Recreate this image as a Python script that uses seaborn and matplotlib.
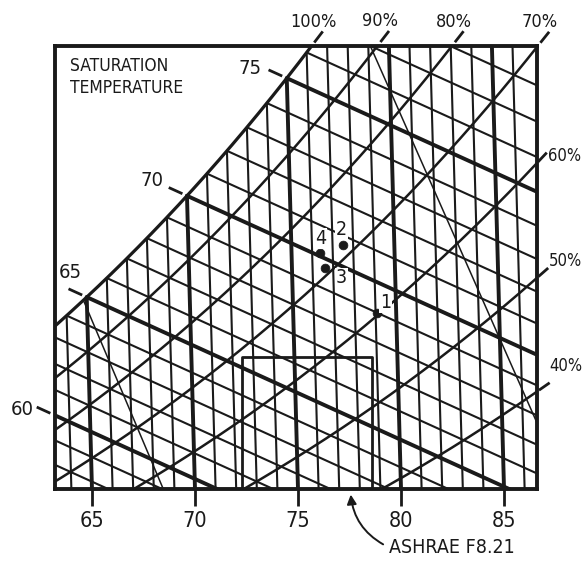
import numpy as np
import pandas as pd
import matplotlib
matplotlib.use("Agg")
import matplotlib.pyplot as plt
import seaborn as sns

# frame: operative temperature (F) across, vapour pressure (kPa) up
T_MIN, T_MAX = 63.2, 86.6
P_BOT, P_TOP = 1.354, 3.084
LEAN = 0.34     # dry-bulb lines lean slightly toward cooler side as humidity rises
GAMMA = 0.037   # kPa per F, slope of saturation-temperature lines

dry_bulb = np.arange(64, 87)
dry_bulb_bold = [65, 70, 75, 80, 85]
sat_temp = np.arange(55, 79)
sat_temp_bold = [60, 65, 70, 75]
sat_temp_labels = [60, 65, 70, 75]
rh_levels = [100, 90, 80, 70, 60, 50, 40]
rh_top = [100, 90, 80, 70]
rh_right = [60, 50, 40]
temp_ticks = [65, 70, 75, 80, 85]

# state points (operative temp F, vapour pressure kPa)
point_ids = ["1", "2", "3", "4"]
point_t = [78.85, 77.20, 76.33, 76.08]
point_p = [2.041, 2.307, 2.217, 2.276]

# comfort box and the two thin limit lines
box_t = [72.3, 78.6]
box_p = 1.87
limit_left_t = [64.58, 68.46]
limit_left_p = [2.092, 1.354]
limit_right_t = [78.51, 86.75]
limit_right_p = [3.084, 1.585]

INK = "#1a1a1a"
FONT = ["DejaVu Sans Condensed", "Liberation Sans Narrow", "DejaVu Sans"]


def psat(t_f):
    tc = (np.asarray(t_f, dtype=float) - 32) / 1.8
    return 0.61094 * np.exp(17.625 * tc / (tc + 243.04))


def skew(t, p):
    return t - LEAN * (p - P_BOT)


rows = []
for t in dry_bulb:
    top = min(float(psat(t)), P_TOP + 0.1)
    w = "bold" if t in dry_bulb_bold else "thin"
    for p in (P_BOT - 0.1, top):
        rows.append(("db%d" % t, skew(t, p), p, w))
for ts in sat_temp:
    w = "bold" if ts in sat_temp_bold else "thin"
    for t in (ts, 95.0):
        p = float(psat(ts)) - GAMMA * (t - ts)
        rows.append(("st%d" % ts, skew(t, p), p, w))
tt = np.linspace(55, 95, 300)
for rh in rh_levels:
    pp = rh / 100 * psat(tt)
    w = "sat" if rh == 100 else "rh"
    for t, p in zip(tt, pp):
        rows.append(("rh%d" % rh, skew(t, p), p, w))
grid = pd.DataFrame(rows, columns=["line", "x", "p", "weight"])

sns.set_theme(style="white")
plt.rcParams["font.family"] = FONT
plt.rcParams["font.stretch"] = "condensed"

fig = plt.figure(figsize=(5.84, 5.63), dpi=100)
ax = fig.add_axes([0.094, 0.1314, 0.8255, 0.787])

sns.lineplot(data=grid, x="x", y="p", units="line", estimator=None, sort=False,
             size="weight", sizes={"thin": 1.5, "bold": 2.8, "rh": 1.8, "sat": 2.3},
             color=INK, legend=False, ax=ax)

# thin limit lines and comfort box
ax.plot(limit_left_t, limit_left_p, color=INK, lw=1.1)
ax.plot(limit_right_t, limit_right_p, color=INK, lw=1.1)
ax.plot([box_t[0], box_t[0], box_t[1], box_t[1]],
        [P_BOT - 0.1, box_p, box_p, P_BOT - 0.1], color=INK, lw=2.0)

pts = pd.DataFrame({"t": point_t, "p": point_p, "id": point_ids})
sns.scatterplot(data=pts, x="t", y="p", s=40, color=INK, edgecolor=INK,
                legend=False, ax=ax, zorder=5)

ax.set_xlim(T_MIN, T_MAX)
ax.set_ylim(P_BOT, P_TOP)
ax.set_xlabel("")
ax.set_ylabel("")
ax.set_yticks([])
ax.set_xticks(temp_ticks)
ax.set_xticklabels([str(t) for t in temp_ticks])
ax.tick_params(axis="x", length=12, width=2, pad=4, labelsize=15.5,
               direction="out", color=INK, labelcolor=INK, bottom=True)
for s in ax.spines.values():
    s.set_linewidth(2.8)
    s.set_color(INK)


def shifted(x, y, dx, dy):
    d = ax.transData.transform((x, y)) + np.array([dx, dy])
    return ax.transData.inverted().transform(d)


def inside(x, p):
    return (x >= T_MIN) & (x <= T_MAX) & (p >= P_BOT) & (p <= P_TOP)


def tick_and_label(x0, y0, u, near, far, label, lab_off, size):
    a = shifted(x0, y0, u[0] * near, u[1] * near)
    b = shifted(x0, y0, u[0] * far, u[1] * far)
    ax.plot([a[0], b[0]], [a[1], b[1]], color=INK, lw=2.0, clip_on=False,
            solid_capstyle="butt")
    c = shifted(x0, y0, *lab_off)
    ax.text(c[0], c[1], label, ha="center", va="center", fontsize=size,
            color=INK, clip_on=False)


# saturation temperature labels, at the upper-left end of each line
ts_label_off = {60: (-33, 6), 65: (-16, 25), 70: (-35, 15), 75: (-37, 10)}
for ts in sat_temp_labels:
    t = np.linspace(ts, 95, 4000)
    p = psat(ts) - GAMMA * (t - ts)
    x = skew(t, p)
    k = np.argmax(inside(x, p))
    d = ax.transData.transform((x[k + 50], p[k + 50])) - ax.transData.transform((x[k], p[k]))
    u = -d / np.hypot(*d)
    tick_and_label(x[k], p[k], u, 5, 20, str(ts), ts_label_off[ts], 14.5)

# relative humidity labels, at the upper-right end of each line
for rh in rh_top + rh_right:
    p = rh / 100 * psat(tt)
    x = skew(tt, p)
    k = np.where(inside(x, p))[0][-1]
    d = ax.transData.transform((x[k], p[k])) - ax.transData.transform((x[k - 3], p[k - 3]))
    u = d / np.hypot(*d)
    if rh in rh_top:
        tick_and_label(x[k], p[k], u, 8, 22, "%d%%" % rh, (4, 27), 13)
    else:
        off = {60: (29, 8), 50: (29, 18), 40: (29, 26)}[rh]
        tick_and_label(x[k], p[k], u, 3, 16, "%d%%" % rh, off, 12)

# state point labels
pt_off = {"1": (8, 11), "2": (-2, 15), "3": (16, -10), "4": (0, 14)}
for t, p, s in zip(point_t, point_p, point_ids):
    c = shifted(t, p, *pt_off[s])
    ax.text(c[0], c[1], s, ha="center", va="center", fontsize=14, color=INK,
            zorder=6, bbox=dict(boxstyle="square,pad=0.05", fc="white", ec="none"))

ax.text(0.031, 0.976, "SATURATION\nTEMPERATURE", transform=ax.transAxes,
        ha="left", va="top", fontsize=12.5, color=INK, linespacing=1.3)

ax.annotate("ASHRAE F8.21", xy=(77.54, P_BOT), xycoords="data",
            xytext=(73, -42), textcoords="offset points", ha="center", va="center",
            fontsize=14, color=INK, annotation_clip=False,
            arrowprops=dict(arrowstyle="-|>", connectionstyle="arc3,rad=-0.3",
                            color=INK, lw=1.4, relpos=(0, 0.5), shrinkA=2, shrinkB=4))

fig.savefig("out.png", dpi=100)
